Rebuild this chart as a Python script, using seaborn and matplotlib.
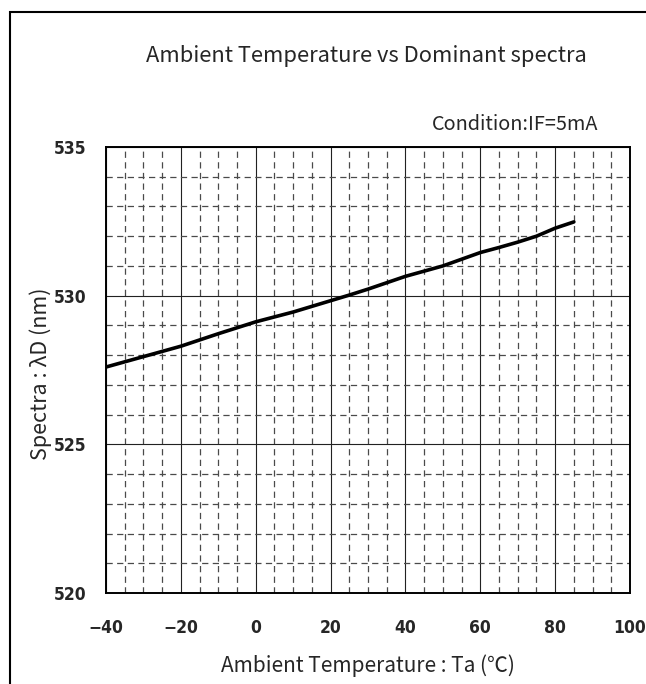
import matplotlib
matplotlib.use("Agg")
import matplotlib.pyplot as plt
import matplotlib.patches as patches
from matplotlib.ticker import MultipleLocator
import seaborn as sns
import pandas as pd

# Data
temperature = [-40, -30, -20, -10, 0, 10, 20, 25, 30, 40, 50, 60, 65, 70, 75, 80, 85]
spectra = [527.6, 527.95, 528.3, 528.72, 529.12, 529.45, 529.83, 530.02, 530.22, 530.65,
           531.0, 531.45, 531.62, 531.8, 532.0, 532.27, 532.48]
x_ticks = [-40, -20, 0, 20, 40, 60, 80, 100]
y_ticks = [520, 525, 530, 535]

df = pd.DataFrame({"Ta": temperature, "lambda": spectra})

sns.set_style("white")
plt.rcParams['font.family'] = ['Noto Sans CJK JP', 'DejaVu Sans']

W, H = 646, 684
fig = plt.figure(figsize=(W / 100, H / 100), dpi=100)
ax = fig.add_axes([106 / W, 1 - 593 / H, (630 - 106) / W, (593 - 147) / H])

# grid
ax.set_xlim(-40, 100)
ax.set_ylim(520, 535)
ax.xaxis.set_major_locator(MultipleLocator(20))
ax.xaxis.set_minor_locator(MultipleLocator(5))
ax.yaxis.set_major_locator(MultipleLocator(5))
ax.yaxis.set_minor_locator(MultipleLocator(1))
ax.grid(which='major', color='#222222', linestyle='-', linewidth=0.8)
ax.grid(which='minor', color='#4a4a4a', linestyle=(0, (5, 3.5)), linewidth=0.9)
ax.set_axisbelow(True)

sns.lineplot(data=df, x="Ta", y="lambda", ax=ax, color='black', linewidth=2.6, zorder=5)

for s in ax.spines.values():
    s.set_color('black')
    s.set_linewidth(1.4)

ax.tick_params(which='both', length=0)
ax.tick_params(axis='y', pad=14)
ax.tick_params(axis='x', pad=19)
ax.set_xticks(x_ticks)
ax.set_yticks(y_ticks)
tick_font = dict(family=['DejaVu Sans Condensed', 'Liberation Sans Narrow', 'DejaVu Sans'],
                 stretch='condensed', size=12.5, weight='semibold')
ax.set_xticklabels([("\u2212" + str(abs(v))) if v < 0 else str(v) for v in x_ticks], **tick_font)
ax.set_yticklabels([str(v) for v in y_ticks], **tick_font)

ax.set_xlabel("Ambient Temperature : Ta (℃)", fontsize=15)
ax.set_ylabel("Spectra : λD (nm)", fontsize=15.5)
ax.xaxis.set_label_coords((368 - 106) / (630 - 106), -(654 - 593) / (593 - 147))
ax.yaxis.set_label_coords(-(106 - 52) / (630 - 106), (593 - 374) / (593 - 147))

fig.text(366 / W, 1 - 56 / H, "Ambient Temperature vs Dominant spectra",
         ha='center', va='center', fontsize=15.8)
fig.text(598 / W, 1 - 125 / H, "Condition:IF=5mA", ha='right', va='center', fontsize=14.3)

# outer frame
fig.add_artist(patches.Rectangle((10 / W, -0.1), 1.0, (H - 12) / H + 0.1,
                                 transform=fig.transFigure, fill=False,
                                 edgecolor='black', linewidth=1.5))

fig.savefig("out.png", dpi=100)
